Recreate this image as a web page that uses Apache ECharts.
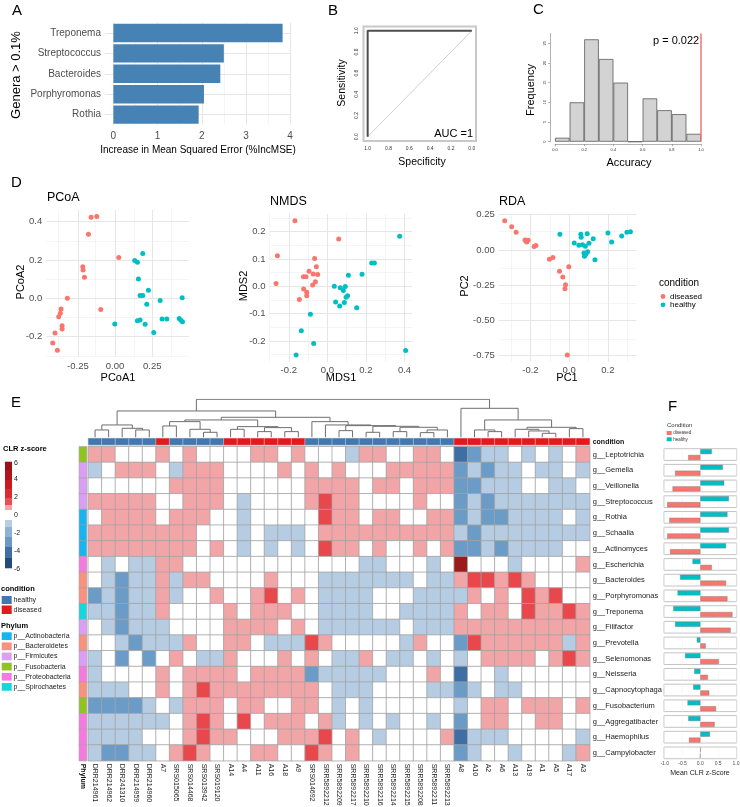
<!DOCTYPE html>
<html>
<head>
<meta charset="utf-8">
<script src="https://cdn.jsdelivr.net/npm/echarts@6/dist/echarts.min.js"></script>
<style>
  html, body { margin: 0; padding: 0; background: #fff; }
  #main { width: 740px; height: 807px; }
</style>
</head>
<body>
<div id="main"></div>
<script>
// ---- panel A : random forest importance
const rfGenera = ['Rothia', 'Porphyromonas', 'Bacteroides', 'Streptococcus', 'Treponema'];
const rfIncMSE = [1.93, 2.05, 2.42, 2.50, 3.83];
const rfTicks = [0, 1, 2, 3, 4];

// ---- panel B : ROC
const rocSpecificity = [1, 1, 0];
const rocSensitivity = [0, 1, 1];
const rocTicks = [0, 0.2, 0.4, 0.6, 0.8, 1];

// ---- panel C : permutation histogram
const accBinMid = [0.05, 0.15, 0.25, 0.35, 0.45, 0.55, 0.65, 0.75, 0.85, 0.95];
const accCounts = [1, 10, 26, 21, 15, 0, 11, 8, 7, 2];
const accObserved = 1.0;
const accXTicks = [0, 0.2, 0.4, 0.6, 0.8, 1];
const accYTicks = [0, 5, 10, 15, 20, 25];

// ---- panel D : ordinations
const pcoaDiseased = [[-0.161,0.423],[-0.123,0.426],[-0.179,0.334],[0.025,0.212],[-0.217,0.165],[-0.215,0.148],[-0.206,0.110],[-0.321,0.0],[-0.363,-0.056],[-0.368,-0.078],[-0.379,-0.097],[-0.096,-0.059],[-0.356,-0.144],[-0.356,-0.160],[-0.404,-0.181],[-0.419,-0.233],[-0.388,-0.271]];
const pcoaHealthy = [[0.186,0.233],[0.132,0.197],[0.150,0.188],[0.157,0.101],[0.224,0.042],[0.168,0.014],[0.186,0.014],[0.451,0.003],[0.303,-0.012],[0.213,-0.031],[-0.002,-0.134],[0.150,-0.117],[0.168,-0.113],[0.202,-0.136],[0.316,-0.108],[0.348,-0.108],[0.431,-0.106],[0.442,-0.115],[0.453,-0.122],[0.260,-0.179]];
const nmdsDiseased = [[-0.168,0.240],[0.059,0.173],[-0.259,0.112],[-0.066,0.102],[-0.057,0.072],[-0.095,0.055],[-0.073,0.045],[-0.050,0.043],[-0.124,0.035],[-0.111,0.035],[-0.266,0.010],[-0.062,0.017],[-0.076,0.005],[-0.123,-0.010],[-0.107,-0.022],[-0.107,-0.034],[-0.145,-0.048]];
const nmdsHealthy = [[0.375,0.183],[0.230,0.085],[0.244,0.085],[0.180,0.044],[0.109,0.041],[0.036,0.0],[0.067,-0.005],[0.093,-0.001],[0.083,-0.015],[0.105,-0.034],[0.097,-0.040],[0.043,-0.057],[0.088,-0.059],[0.064,-0.072],[0.152,-0.078],[-0.088,-0.102],[-0.135,-0.162],[-0.071,-0.209],[0.406,-0.235],[-0.162,-0.251]];
const rdaDiseased = [[-0.333,0.208],[-0.297,0.165],[-0.274,0.125],[-0.228,0.071],[-0.212,0.069],[-0.219,0.057],[-0.181,0.024],[-0.172,0.031],[-0.084,-0.054],[-0.102,-0.066],[-0.002,-0.118],[-0.050,-0.151],[-0.033,-0.191],[-0.019,-0.246],[-0.022,-0.274],[-0.010,-0.745],[-0.224,0.064]];
const rdaHealthy = [[-0.048,0.111],[0.060,0.111],[0.062,0.090],[0.093,0.116],[0.124,0.080],[0.200,0.121],[0.271,0.099],[0.298,0.125],[0.316,0.130],[0.219,0.057],[0.026,0.050],[0.050,0.033],[0.069,0.038],[0.083,0.026],[0.102,0.047],[0.076,-0.021],[0.086,-0.031],[0.079,-0.045],[0.095,-0.012],[0.133,-0.069]];

// ---- panel E : heatmap
const samples = ['DRR214961','DRR214962','DRR241310','DRR214959','DRR214960','A7','SRS015065','SRS014468','SRS013942','SRS019120','A14','A4','A11','A16','A18','A9','SRS014692','SRR5892212','SRR5892209','SRR5892217','SRR5892210','SRR5892216','SRR5892214','SRR5892215','SRR5892208','SRR5892211','SRR5892213','A8','A10','A2','A6','A13','A19','A1','A5','A17','A3'];
// 0 = healthy, 1 = diseased
const sampleCondition = [0,0,0,0,0,1,0,0,0,0,1,1,1,1,1,1,0,0,0,0,0,0,0,0,0,0,0,1,1,1,1,1,1,1,1,1,1];
const genera = ['g__Leptotrichia','g__Gemella','g__Veillonella','g__Streptococcus','g__Rothia','g__Schaalia','g__Actinomyces','g__Escherichia','g__Bacteroides','g__Porphyromonas','g__Treponema','g__Filifactor','g__Prevotella','g__Selenomonas','g__Neisseria','g__Capnocytophaga','g__Fusobacterium','g__Aggregatibacter','g__Haemophilus','g__Campylobacter'];
const phyla = ['p__Actinobacteria','p__Bacteroidetes','p__Firmicutes','p__Fusobacteria','p__Proteobacteria','p__Spirochaetes'];
const phylumColors = ['#17b4f0','#f8917e','#da9ef5','#8fc31f','#f57ae0','#13d7dc'];
const generaPhylum = [3,2,2,2,0,0,0,4,1,1,5,2,1,2,4,1,3,4,4,4];
// CLR z-scores
const clrZ = [
  [1,1,0,0,0,1,0,1,0,0,0,0,1,1,0,1,0,0, 0,-1,1,1,0,0,1,1,0, -4,-2.5,-1,-1,0,-1,0,-1,0,1],
  [-1,0,1,1,1,0,-1,1,1,1,0,0,0,0,1,0,1,0, 1,0,0,0,1,1,1,1,1, -2.5,-1,-2.5,-1,-1,0,-1,-1,0,-1],
  [0,0,0,0,0,0,1,1,1,1,0,0,0,0,0,0,1,1, 1,1,0,1,1,0,1,1,1, -2.5,-2.5,-1,-1,-1,0,0,-1,-1,0],
  [1,1,1,1,1,0,0,1,1,1,0,-1,0,0,0,0,1,3, 1,1,0,0,0,0,1,0,0, -2.5,-1,-2.5,-1,-1,-1,-1,-1,-1,-1],
  [0,1,1,1,1,0,1,1,1,0,0,-1,0,0,0,0,0,3, 1,1,0,1,1,0,0,1,1, -2.5,-1,-2.5,-2.5,-1,-1,-1,-1,0,-1],
  [1,1,1,1,1,1,1,1,0,0,0,-1,0,-1,-1,-1,0,1, 1,1,1,1,1,1,1,1,1, -1,-2.5,-1,-1,-1,-1,-1,-1,-1,-1],
  [1,1,1,1,1,1,1,1,0,1,0,-1,0,-1,0,-1,0,3, 1,1,0,1,0,0,1,0,1, -2.5,-2.5,-1,-2.5,-1,-1,-1,-1,0,0],
  [0,-1,0,-1,-1,1,1,0,0,0,0,0,0,0,0,0,0,0, 0,0,-1,-1,0,0,0,-1,0, 5.5,0,0,0,-1,0,0,0,0,1],
  [0,-1,-2.5,-1,-1,1,-1,1,1,0,0,0,0,1,0,0,0,-1, -1,-1,-1,-1,-1,-1,0,-1,-1, 1,3,3,1,3,1,0,0,0,0],
  [-2.5,-1,-2.5,-1,-1,1,-1,0,0,1,0,0,1,3,0,1,0,-1, -1,-1,-1,0,0,0,-1,-1,-1, -1,1,0,1,0,3,1,3,0,0],
  [-1,-1,-2.5,-1,-1,1,0,0,0,0,1,0,1,1,1,0,0,-1, -1,-1,-1,0,0,-1,-1,-1,-1, 1,0,1,1,0,3,1,1,3,1],
  [0,-1,-2.5,-1,-1,-1,0,0,0,0,1,1,1,1,0,1,0,-1, -1,-1,-1,-1,-1,0,-1,-1,-1, 1,1,1,1,1,1,1,1,1,1],
  [0,0,-1,-2.5,-1,-1,-1,1,0,0,1,1,0,-1,-1,-1,3,1, 0,0,0,0,0,-1,1,0,0, -2.5,3,1,1,1,1,1,1,-1,1],
  [-1,0,-2.5,0,-2.5,0,1,0,-1,-1,1,0,0,0,1,0,1,0, -1,-1,1,0,-1,-1,0,-1,0, -1,0,1,1,1,1,0,1,3,1],
  [-1,0,0,0,0,1,0,1,1,1,1,0,1,1,1,1,-2.5,-1, -1,-1,-1,-1,0,0,0,1,0, -4,0,0,-1,0,0,0,0,0,0],
  [-1,-1,-1,0,0,1,0,1,3,1,1,1,1,1,1,1,1,0, -1,-1,-1,0,0,0,0,-1,-1, -2.5,-1,0,-1,-1,0,0,0,0,0],
  [-2.5,-2.5,-2.5,-2.5,-1,0,-1,1,1,1,0,1,1,0,0,1,1,0, -1,0,-1,0,0,0,0,0,0, -1,0,1,1,0,1,1,1,0,1],
  [-1,-1,-1,-1,-1,-1,0,1,3,1,0,3,0,1,1,1,0,1, -1,0,-1,0,-1,0,0,-1,0, -2.5,0,1,1,0,0,1,1,0,0],
  [-1,-1,-1,-1,0,0,0,1,3,1,1,0,0,0,1,1,1,3, 0,1,0,-1,0,0,0,0,1, -4,-1,-1,-1,0,0,0,0,0,-1],
  [-1,-2.5,-2.5,-1,-1,0,1,3,1,0,0,0,1,1,0,0,3,1, 0,1,0,0,0,0,0,0,0, -2.5,-1,0,0,-1,0,0,0,-1,1]
];
// sample dendrogram: [left, right, height], leaves are column indices
const dendroTree = [
  [ [[0,1,22],[2,[3,4,22],27],37],
    [ [[[5,6,34],[7,[8,9,15],24],47], [[10,11,24],[[12,13,17],[14,15,17],29],32],52],
      [16,[17,[[18,19,20],[[20,21,15],[[22,23,17],[[24,25,14],26,22],30],33],35],37],47],
      60],
    79],
  [27, [[28,[29,30,17],22], [[31,[32,[33,34,12],19],24],[35,36,26],30],52], 87],
  114];

// ---- panel F : mean CLR z-score per condition
const healthyMean = [0.32,0.63,0.67,0.80,0.76,0.80,0.72,-0.22,-0.57,-0.64,-0.76,-0.71,-0.10,-0.43,-0.17,-0.20,-0.36,-0.34,0.27,0.01];
const diseasedMean = [-0.34,-0.71,-0.78,-0.93,-0.87,-0.93,-0.85,0.32,0.72,0.76,0.90,0.85,0.15,0.52,0.21,0.25,0.44,0.40,-0.32,-0.01];
const meanTicks = [-1, -0.5, 0, 0.5, 1];

const FONT = '"Liberation Sans", Arial, Helvetica, sans-serif';
const RED = '#F8766D', CYAN = '#00BFC4';
const HEALTHY = '#4178b0', DISEASED = '#e3191c';

const chart = echarts.init(document.getElementById('main'));
const grid = [], xAxis = [], yAxis = [], series = [], graphic = [];

function addGrid(g, xa, ya) {
  grid.push(Object.assign({outerBoundsMode: 'none', containLabel: false}, g));
  const i = grid.length - 1;
  xAxis.push(Object.assign({gridIndex: i}, xa));
  yAxis.push(Object.assign({gridIndex: i}, ya));
  return i;
}
function txt(x, y, text, size, o) {
  o = o || {};
  return {type: 'text', x: x, y: y, rotation: o.rot || 0, silent: true, z: 100,
    style: {text: text, fill: o.color || '#000', font: (o.bold ? 'bold ' : '') + size + 'px ' + FONT,
      textAlign: o.align || 'left', textVerticalAlign: o.valign || 'middle'}};
}
function rect(x, y, w, h, color, stroke) {
  return {type: 'rect', silent: true, z: 100, shape: {x: x, y: y, width: w, height: h},
    style: {fill: color, stroke: stroke || null, lineWidth: stroke ? 0.5 : 0}};
}
// ggplot-like gridlines drawn as mark lines
function gridMarks(xMaj, xMin, yMaj, yMin) {
  const d = [];
  const minor = {color: '#efefef', width: 0.6, type: 'solid'};
  const major = {color: '#e6e6e6', width: 1, type: 'solid'};
  (xMin || []).forEach(v => d.push({xAxis: v, lineStyle: minor}));
  (yMin || []).forEach(v => d.push({yAxis: v, lineStyle: minor}));
  (xMaj || []).forEach(v => d.push({xAxis: v, lineStyle: major}));
  (yMaj || []).forEach(v => d.push({yAxis: v, lineStyle: major}));
  return {silent: true, symbol: ['none', 'none'], label: {show: false}, z: 1, animation: false, data: d};
}
const noLine = {show: false};
const noAxisLine = {show: false, onZero: false};

// ================= A =================
let gi = addGrid({left: 105, top: 22.8, width: 186, height: 102},
  {type: 'value', min: -0.19, max: 4.02, axisLine: noAxisLine, axisTick: noLine, splitLine: noLine,
   axisLabel: {customValues: rfTicks, fontFamily: FONT, fontSize: 10, color: '#4d4d4d', margin: 6}},
  {type: 'category', data: rfGenera, axisLine: noAxisLine, axisTick: noLine, splitLine: noLine,
   axisLabel: {fontFamily: FONT, fontSize: 10, color: '#4d4d4d', margin: 4}});
series.push({type: 'bar', xAxisIndex: gi, yAxisIndex: gi, data: rfIncMSE, barWidth: 18.4,
  itemStyle: {color: '#4682b4'}, z: 2,
  markLine: gridMarks([0, 1, 2, 3, 4], [0.5, 1.5, 2.5, 3.5], rfGenera, [])});
graphic.push(txt(12, 11, 'A', 15));
graphic.push(txt(16, 75, 'Genera > 0.1%', 13, {rot: Math.PI / 2, align: 'center'}));
graphic.push(txt(198, 150, 'Increase in Mean Squared Error (%IncMSE)', 10, {align: 'center'}));

// ================= B =================
gi = addGrid({left: 363.5, top: 26.5, width: 112.5, height: 114.5, show: true, borderColor: '#c8c8c8', borderWidth: 2},
  {type: 'value', min: -0.04, max: 1.04, inverse: true, position: 'bottom', splitLine: noLine, axisLine: noAxisLine, axisTick: noLine,
   axisLabel: {customValues: rocTicks, formatter: v => v.toFixed(1), fontFamily: FONT, fontSize: 5, color: '#333', margin: 5}},
  {type: 'value', min: -0.04, max: 1.04, position: 'left', splitLine: noLine, axisLine: noAxisLine, axisTick: noLine,
   axisLabel: {customValues: rocTicks, formatter: v => v.toFixed(1), fontFamily: FONT, fontSize: 5, color: '#333', margin: 4, rotate: 90}});
series.push({type: 'line', xAxisIndex: gi, yAxisIndex: gi, data: [[rocSpecificity[0], rocSensitivity[0]], [rocSpecificity[2], rocSensitivity[2]]],
  symbol: 'none', lineStyle: {color: '#d0d0d0', width: 1}, z: 1});
series.push({type: 'line', xAxisIndex: gi, yAxisIndex: gi, data: rocSpecificity.map((s, i) => [s, rocSensitivity[i]]),
  symbol: 'none', lineStyle: {color: '#4d4d4d', width: 2}, z: 2});
graphic.push(txt(328, 11, 'B', 15));
graphic.push(txt(342, 83, 'Sensitivity', 10.5, {rot: Math.PI / 2, align: 'center'}));
graphic.push(txt(422, 162, 'Specificity', 10.5, {align: 'center'}));
graphic.push(txt(473, 134, 'AUC =1', 11, {align: 'right'}));

// ================= C =================
gi = addGrid({left: 555, top: 33.4, width: 146, height: 108.3},
  {type: 'value', min: 0, max: 1, splitLine: noLine, offset: 2.5,
   axisLine: {show: true, onZero: false, lineStyle: {color: '#666', width: 0.5}},
   axisTick: {show: true, customValues: accXTicks, length: 2, lineStyle: {color: '#666', width: 0.5}},
   axisLabel: {customValues: accXTicks, formatter: v => v.toFixed(1), fontFamily: FONT, fontSize: 4, color: '#333', margin: 4}},
  {type: 'value', min: 0, max: 27.5, splitLine: noLine, offset: 5,
   axisLine: {show: true, onZero: false, lineStyle: {color: '#666', width: 0.5}},
   axisTick: {show: true, customValues: accYTicks, length: 2, lineStyle: {color: '#666', width: 0.5}},
   axisLabel: {customValues: accYTicks, fontFamily: FONT, fontSize: 4, color: '#333', margin: 3, rotate: 90}});
series.push({type: 'bar', xAxisIndex: gi, yAxisIndex: gi, data: accBinMid.map((m, i) => [m, accCounts[i]]),
  barWidth: 14.6, itemStyle: {color: '#d3d3d3', borderColor: '#5a5a5a', borderWidth: 0.8},
  markLine: {silent: true, symbol: ['none', 'none'], label: {show: false}, animation: false,
    lineStyle: {color: '#f27474', width: 1.5, type: 'solid'}, data: [{xAxis: accObserved}]}});
graphic.push(txt(533, 10, 'C', 15));
graphic.push(txt(531, 90, 'Frequency', 11, {rot: Math.PI / 2, align: 'center'}));
graphic.push(txt(629, 163, 'Accuracy', 11, {align: 'center'}));
graphic.push(txt(653, 41, 'p = 0.022', 11));

// ================= D =================
function scatterPanel(p) {
  const lab = {fontFamily: FONT, fontSize: 9.5, color: '#4d4d4d'};
  const g = addGrid({left: p.left, top: p.top, width: p.width, height: p.height},
    {type: 'value', min: p.xr[0], max: p.xr[1], axisLine: noAxisLine, axisTick: noLine, splitLine: noLine,
     axisLabel: Object.assign({customValues: p.xl, formatter: v => v.toFixed(p.xd), margin: 4}, lab)},
    {type: 'value', min: p.yr[0], max: p.yr[1], axisLine: noAxisLine, axisTick: noLine, splitLine: noLine,
     axisLabel: Object.assign({customValues: p.yl, formatter: v => v.toFixed(p.yd), margin: 4}, lab)});
  series.push({type: 'scatter', name: 'diseased', xAxisIndex: g, yAxisIndex: g, data: p.dis, symbolSize: 5,
    itemStyle: {color: RED, opacity: 1}, z: 3, markLine: gridMarks(p.xl, p.xm, p.yl, p.ym)});
  series.push({type: 'scatter', name: 'healthy', xAxisIndex: g, yAxisIndex: g, data: p.hea, symbolSize: 5,
    itemStyle: {color: CYAN, opacity: 1}, z: 3});
}
scatterPanel({left: 46.2, top: 209.9, width: 142.8, height: 147, xr: [-0.463, 0.497], yr: [-0.306, 0.461],
  xl: [-0.25, 0, 0.25], xd: 2, xm: [-0.375, -0.125, 0.125, 0.375], yl: [-0.2, 0, 0.2, 0.4], yd: 1, ym: [-0.3, -0.1, 0.1, 0.3],
  dis: pcoaDiseased, hea: pcoaHealthy});
scatterPanel({left: 269.5, top: 213.9, width: 142.7, height: 147.9, xr: [-0.30, 0.44], yr: [-0.276, 0.265],
  xl: [-0.2, 0, 0.2, 0.4], xd: 1, xm: [-0.3, -0.1, 0.1, 0.3], yl: [-0.2, -0.1, 0, 0.1, 0.2], yd: 1, ym: [-0.25, -0.15, -0.05, 0.05, 0.15, 0.25],
  dis: nmdsDiseased, hea: nmdsHealthy});
scatterPanel({left: 498.7, top: 213.9, width: 137.9, height: 147.9, xr: [-0.364, 0.348], yr: [-0.793, 0.256],
  xl: [-0.2, 0, 0.2], xd: 1, xm: [-0.3, -0.1, 0.1, 0.3], yl: [-0.75, -0.5, -0.25, 0, 0.25], yd: 2, ym: [-0.625, -0.375, -0.125, 0.125],
  dis: rdaDiseased, hea: rdaHealthy});
graphic.push(txt(11, 183, 'D', 15));
graphic.push(txt(47, 198, 'PCoA', 12.5));
graphic.push(txt(270, 202, 'NMDS', 12.5));
graphic.push(txt(499, 202, 'RDA', 12.5));
graphic.push(txt(118, 378, 'PCoA1', 11, {align: 'center'}));
graphic.push(txt(341, 378, 'MDS1', 11, {align: 'center'}));
graphic.push(txt(567, 378, 'PC1', 11, {align: 'center'}));
graphic.push(txt(21, 282, 'PCoA2', 11, {rot: Math.PI / 2, align: 'center'}));
graphic.push(txt(244, 286, 'MDS2', 11, {rot: Math.PI / 2, align: 'center'}));
graphic.push(txt(465, 286, 'PC2', 11, {rot: Math.PI / 2, align: 'center'}));
graphic.push(txt(659, 283, 'condition', 10));
graphic.push({type: 'circle', silent: true, z: 100, shape: {cx: 663, cy: 296.5, r: 2.4}, style: {fill: RED}});
graphic.push({type: 'circle', silent: true, z: 100, shape: {cx: 663, cy: 304.8, r: 2.4}, style: {fill: CYAN}});
graphic.push(txt(670, 296.5, 'diseased', 8));
graphic.push(txt(670, 304.8, 'healthy', 8));

// ================= E =================
const HM_LEFT = 88.3, HM_TOP = 446.7, HM_W = 501.4, HM_H = 314;
const hmData = [];
clrZ.forEach((row, r) => row.forEach((v, c) => hmData.push([c, r, v])));
const hmGrid = addGrid({left: HM_LEFT, top: HM_TOP, width: HM_W, height: HM_H},
  {type: 'category', data: samples, axisLine: noAxisLine, axisTick: noLine, splitLine: noLine,
   axisLabel: {interval: 0, rotate: -90, fontFamily: FONT, fontSize: 7, color: '#222', margin: 3}},
  {type: 'category', data: genera, inverse: true, position: 'right', axisLine: noAxisLine, axisTick: noLine, splitLine: noLine,
   axisLabel: {interval: 0, fontFamily: FONT, fontSize: 7.5, color: '#222', margin: 3}});
series.push({type: 'heatmap', xAxisIndex: hmGrid, yAxisIndex: hmGrid, data: hmData,
  itemStyle: {borderColor: '#a3a3a3', borderWidth: 0.8}});
const hmSeriesIdx = series.length - 1;

const condGrid = addGrid({left: HM_LEFT, top: 438.3, width: HM_W, height: 6.7},
  {type: 'category', data: samples, axisLine: noAxisLine, axisTick: noLine, axisLabel: noLine, splitLine: noLine},
  {type: 'category', data: ['condition'], position: 'right', axisLine: noAxisLine, axisTick: noLine, splitLine: noLine,
   axisLabel: {fontFamily: FONT, fontSize: 7, fontWeight: 'bold', color: '#111', margin: 3}});
series.push({type: 'heatmap', xAxisIndex: condGrid, yAxisIndex: condGrid,
  data: sampleCondition.map((c, i) => [i, 0, c]), itemStyle: {borderColor: '#d9d9d9', borderWidth: 0.5}});
const condSeriesIdx = series.length - 1;

const phyGrid = addGrid({left: 79.3, top: HM_TOP, width: 7.2, height: HM_H},
  {type: 'category', data: ['Phylum'], axisLine: noAxisLine, axisTick: noLine, splitLine: noLine,
   axisLabel: {rotate: -90, fontFamily: FONT, fontSize: 7, fontWeight: 'bold', color: '#111', margin: 3}},
  {type: 'category', data: genera, inverse: true, axisLine: noAxisLine, axisTick: noLine, axisLabel: noLine, splitLine: noLine});
series.push({type: 'heatmap', xAxisIndex: phyGrid, yAxisIndex: phyGrid,
  data: generaPhylum.map((p, r) => [0, r, p]), itemStyle: {borderColor: '#a3a3a3', borderWidth: 0.6}});
const phySeriesIdx = series.length - 1;

// dendrogram
const dendroLines = [];
function walk(node) {
  if (typeof node === 'number') return {x: node + 0.5, h: 0};
  const l = walk(node[0]), r = walk(node[1]), h = node[2];
  dendroLines.push({coords: [[l.x, l.h], [l.x, h], [r.x, h], [r.x, r.h]]});
  return {x: (l.x + r.x) / 2, h: h};
}
walk(dendroTree);
const dGrid = addGrid({left: HM_LEFT, top: 399.3, width: HM_W, height: 38},
  {type: 'value', min: 0, max: samples.length, show: false},
  {type: 'value', min: 0, max: dendroTree[2], show: false});
series.push({type: 'lines', coordinateSystem: 'cartesian2d', xAxisIndex: dGrid, yAxisIndex: dGrid, polyline: true,
  silent: true, data: dendroLines, lineStyle: {color: '#6e6e6e', width: 1, opacity: 1}});

graphic.push(txt(11, 403, 'E', 15));
graphic.push(txt(3, 449, 'CLR z-score', 7.5, {bold: true}));
const keyBands = [
  [461.7, 470, '#9e1016'], [470, 480, '#b3141a'], [480, 489, '#cc1a20'], [489, 498, '#dd2a2f'],
  [498, 505, '#e84e53'], [505, 510, '#f4a5a7'], [510, 520, '#ffffff'], [520, 527, '#b8cde3'],
  [527, 537, '#8fb1d5'], [537, 547, '#6a99c6'], [547, 558, '#3f6fa3'], [558, 568.3, '#244b7a']];
keyBands.forEach(b => graphic.push(rect(5, b[0], 7, b[1] - b[0], b[2])));
[['6', 463], ['4', 479.5], ['2', 497], ['0', 515.5], ['-2', 533], ['-4', 551], ['-6', 569]]
  .forEach(t => graphic.push(txt(14, t[1], t[0], 7, {color: '#222'})));
graphic.push(txt(1, 589, 'condition', 7.5, {bold: true}));
graphic.push(rect(1.7, 596, 10, 8, HEALTHY));
graphic.push(rect(1.7, 605.5, 10, 8.5, DISEASED));
graphic.push(txt(13.5, 600, 'healthy', 7, {color: '#222'}));
graphic.push(txt(13.5, 609.7, 'diseased', 7, {color: '#222'}));
graphic.push(txt(1, 626, 'Phylum', 7.5, {bold: true}));
phyla.forEach((p, i) => {
  const y = 632.3 + i * 10.15;
  graphic.push(rect(1.7, y, 10, 7.7, phylumColors[i]));
  graphic.push(txt(13.5, y + 3.9, p, 7, {color: '#222'}));
});

// ================= F =================
genera.forEach((g, r) => {
  const last = r === genera.length - 1;
  const fg = addGrid({left: 664, top: HM_TOP + 15.7 * r + 2, width: 72.7, height: 11.7,
      show: true, borderColor: '#b5b5b5', borderWidth: 0.8, backgroundColor: '#fff'},
    {type: 'value', min: -1.02, max: 1.02, axisLine: noAxisLine, axisTick: noLine, splitLine: noLine,
     axisLabel: last ? {customValues: meanTicks, formatter: v => v.toFixed(1), fontFamily: FONT, fontSize: 5, color: '#4d4d4d', margin: 2} : noLine},
    {type: 'category', data: ['diseased', 'healthy'], axisLine: noAxisLine, axisTick: noLine, axisLabel: noLine, splitLine: noLine});
  series.push({type: 'bar', xAxisIndex: fg, yAxisIndex: fg, barWidth: 5,
    data: [{value: diseasedMean[r], itemStyle: {color: RED}}, {value: healthyMean[r], itemStyle: {color: CYAN}}],
    itemStyle: {borderColor: '#7a7a7a', borderWidth: 0.4},
    markLine: {silent: true, symbol: ['none', 'none'], label: {show: false}, animation: false, z: 1,
      data: meanTicks.map(v => ({xAxis: v, lineStyle: {color: v === 0 ? '#e0e0e0' : '#f0f0f0', width: 0.5, type: 'solid'}}))}});
});
graphic.push(txt(668, 407, 'F', 15));
graphic.push(txt(667, 425.5, 'Condition', 6, {color: '#333'}));
graphic.push(rect(666.7, 431, 5, 4, RED));
graphic.push(rect(666.7, 437.3, 5, 4, CYAN));
graphic.push(txt(673.3, 433, 'diseased', 4.5, {color: '#333'}));
graphic.push(txt(673.3, 439.3, 'healthy', 4.5, {color: '#333'}));
graphic.push(txt(700, 773, 'Mean CLR z-Score', 7, {align: 'center', color: '#222'}));

const option = {
  backgroundColor: '#fff',
  animation: false,
  textStyle: {fontFamily: FONT},
  grid: grid, xAxis: xAxis, yAxis: yAxis, series: series, graphic: graphic,
  visualMap: [
    {type: 'piecewise', show: false, seriesIndex: hmSeriesIdx, dimension: 2, pieces: [
      {lt: -3.25, color: '#3d6fa5'}, {gte: -3.25, lt: -1.75, color: '#6b9bc7'}, {gte: -1.75, lt: -0.5, color: '#b5cce3'},
      {gte: -0.5, lte: 0.5, color: '#ffffff'}, {gt: 0.5, lte: 2, color: '#f2a5a7'}, {gt: 2, lte: 4.5, color: '#e8474b'},
      {gt: 4.5, color: '#9e1a1a'}]},
    {type: 'piecewise', show: false, seriesIndex: condSeriesIdx, dimension: 2, pieces: [
      {value: 0, color: HEALTHY}, {value: 1, color: DISEASED}]},
    {type: 'piecewise', show: false, seriesIndex: phySeriesIdx, dimension: 2,
      pieces: phylumColors.map((c, i) => ({value: i, color: c}))}
  ]
};
chart.setOption(option);
</script>
</body>
</html>
